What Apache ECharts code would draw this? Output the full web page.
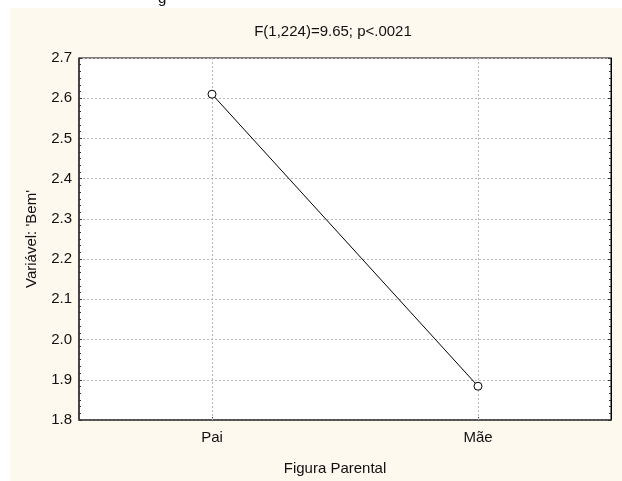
<!DOCTYPE html>
<html>
<head>
<meta charset="utf-8">
<script src="https://cdn.jsdelivr.net/npm/echarts@6/dist/echarts.min.js"></script>
<style>html,body{margin:0;padding:0;background:#fff}#c{width:622px;height:481px}</style>
</head>
<body>
<div id="c"></div>
<script>
var categories = ['Pai', 'Mãe'];
var values = [2.61, 1.884];
var titleText = 'F(1,224)=9.65; p<.0021';
var xName = 'Figura Parental';
var yName = "Variável: 'Bem'";
var yMin = 1.8, yMax = 2.7, yStep = 0.1;

var font = 'Liberation Sans, Arial, sans-serif';
var fs = 15;
var chart = echarts.init(document.getElementById('c'), null, {renderer: 'canvas'});
function yAxisBase(pos, showLabel) {
  return {
    type: 'value', position: pos, min: yMin, max: yMax, interval: yStep,
    axisLine: {show: true, lineStyle: {color: pos === 'left' ? '#333' : '#000', width: pos === 'left' ? 1.5 : 1}},
    axisTick: {show: true, inside: true, length: 3, lineStyle: {color: '#333'}},
    minorTick: {show: true, splitNumber: 6, length: 2, lineStyle: {color: '#333'}},
    axisLabel: {show: showLabel, margin: 7, color: '#111', fontFamily: font, fontSize: fs,
      formatter: function (v) { return v.toFixed(1); }},
    splitLine: {show: showLabel, lineStyle: {color: '#b8b8b8', type: [2, 2], width: 1}},
    name: showLabel ? yName : '', nameLocation: 'middle', nameGap: 40,
    nameTextStyle: {color: '#111', fontFamily: font, fontSize: fs}
  };
}
chart.setOption({
  backgroundColor: '#fff',
  animation: false,
  graphic: [{
    type: 'rect', z: -100, silent: true,
    shape: {x: 10, y: 8, width: 612, height: 473},
    style: {fill: '#fef9ee'}
  }, {
    type: 'text', silent: true, x: 158, y: 6,
    style: {text: 'g', fontFamily: font, fontSize: fs, fill: '#111', verticalAlign: 'bottom'}
  }],
  title: {
    text: titleText, left: 328, top: 19, textAlign: 'center',
    textStyle: {fontFamily: font, fontSize: fs, fontWeight: 'normal', color: '#111'}
  },
  grid: {left: 79, right: 11, top: 58, bottom: 61, show: true, backgroundColor: '#fff', borderColor: '#000', borderWidth: 1, containLabel: false},
  xAxis: {
    type: 'category', data: categories, boundaryGap: true,
    axisLine: {show: true, lineStyle: {color: '#444', width: 1.5}},
    axisTick: {show: true, inside: true, alignWithLabel: true, length: 3, lineStyle: {color: '#333'}},
    axisLabel: {margin: 10, color: '#111', fontFamily: font, fontSize: fs},
    splitLine: {show: false},
    name: xName, nameLocation: 'middle', nameGap: 41,
    nameTextStyle: {color: '#111', fontFamily: font, fontSize: fs, padding: [0, 20, 0, 0]}
  },
  yAxis: [yAxisBase('left', true), yAxisBase('right', false)],
  series: [{
    type: 'line', data: values, yAxisIndex: 0,
    symbol: 'circle', symbolSize: 8,
    itemStyle: {color: '#fff', borderColor: '#000', borderWidth: 1},
    lineStyle: {color: '#000', width: 1},
    z: 5,
    markLine: {
      silent: true, symbol: 'none', label: {show: false},
      lineStyle: {color: '#b8b8b8', type: [2, 2], width: 1},
      data: categories.map(function (c) { return {xAxis: c}; }),
      z: 1
    }
  }]
});
</script>
</body>
</html>
